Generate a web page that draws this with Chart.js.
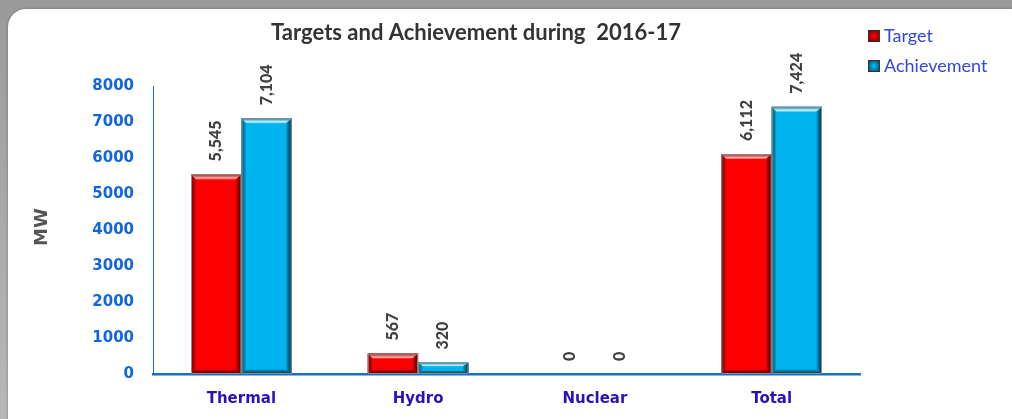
<!DOCTYPE html>
<html><head><meta charset="utf-8">
<script src="https://cdn.jsdelivr.net/npm/chart.js@4/dist/chart.umd.min.js"></script>
<style>
html,body{margin:0;padding:0;width:1012px;height:419px;overflow:hidden;background:#a9a9a9;}
#frame{position:absolute;left:0;top:0;width:1012px;height:419px;background:linear-gradient(to bottom,#9a9a9a,#b8b8b8);}
#card{position:absolute;left:8px;top:9px;width:1030px;height:440px;background:#fff;border-radius:18px;box-shadow:0 0 3px rgba(0,0,0,0.35);}
canvas{position:absolute;left:0;top:0;}
</style></head><body>
<div id="frame"></div><div id="card"></div>
<canvas id="c" width="1012" height="419"></canvas>
<script>
const titleText = 'Targets and Achievement during  2016-17';
const yAxisTitle = 'MW';
const categories = ['Thermal', 'Hydro', 'Nuclear', 'Total'];
const seriesNames = ['Target', 'Achievement'];
const targetValues = [5545, 567, 0, 6112];
const achievementValues = [7104, 320, 0, 7424];
const yMin = 0, yMax = 8000, yStep = 1000;

const palette = {
  Target: {main: '#ff0000', dark: '#5a0000', mid: '#a00000', light: 'rgba(255,190,190,0.9)'},
  Achievement: {main: '#00b4f0', dark: '#0a3448', mid: '#0a7aa8', light: 'rgba(200,250,255,0.95)'}
};

const bevelPlugin = {
  id: 'bevel',
  afterDatasetsDraw(chart) {
    const ctx = chart.ctx;
    chart.data.datasets.forEach((ds, di) => {
      const pal = palette[ds.label];
      chart.getDatasetMeta(di).data.forEach(el => {
        const w = el.width, left = el.x - w / 2, right = el.x + w / 2;
        const top = el.y, bot = el.base, h = bot - top;
        if (h < 1) return;
        const b = Math.min(5, h / 3);
        ctx.save();
        let g = ctx.createLinearGradient(right - 6, 0, right, 0);
        g.addColorStop(0, 'rgba(0,0,0,0)'); g.addColorStop(1, pal.dark);
        ctx.fillStyle = g;
        ctx.beginPath(); ctx.moveTo(right, top); ctx.lineTo(right, bot); ctx.lineTo(right - 6, bot - b); ctx.lineTo(right - 6, top + b); ctx.closePath(); ctx.fill();
        g = ctx.createLinearGradient(left, 0, left + 5, 0);
        g.addColorStop(0, pal.mid); g.addColorStop(1, 'rgba(0,0,0,0)');
        ctx.fillStyle = g;
        ctx.beginPath(); ctx.moveTo(left, top); ctx.lineTo(left + 5, top + b); ctx.lineTo(left + 5, bot - b); ctx.lineTo(left, bot); ctx.closePath(); ctx.fill();
        g = ctx.createLinearGradient(0, bot - b, 0, bot);
        g.addColorStop(0, 'rgba(0,0,0,0)'); g.addColorStop(1, pal.dark);
        ctx.fillStyle = g;
        ctx.beginPath(); ctx.moveTo(left, bot); ctx.lineTo(right, bot); ctx.lineTo(right - 6, bot - b); ctx.lineTo(left + 5, bot - b); ctx.closePath(); ctx.fill();
        g = ctx.createLinearGradient(0, top, 0, top + b + 1);
        g.addColorStop(0, pal.mid); g.addColorStop(0.6, pal.light); g.addColorStop(1, 'rgba(255,255,255,0)');
        ctx.fillStyle = g;
        ctx.beginPath(); ctx.moveTo(left, top); ctx.lineTo(right, top); ctx.lineTo(right - 6, top + b); ctx.lineTo(left + 5, top + b); ctx.closePath(); ctx.fill();
        ctx.strokeStyle = '#8c8c8c'; ctx.lineWidth = 1;
        ctx.strokeRect(left + 0.5, top + 0.5, w - 1, h - 1);
        ctx.restore();
      });
    });
  }
};

const labelsPlugin = {
  id: 'extras',
  afterDraw(chart) {
    const ctx = chart.ctx;
    ctx.save();
    ctx.fillStyle = '#404040';
    ctx.font = '900 16px Lato';
    ctx.textAlign = 'left'; ctx.textBaseline = 'middle';
    chart.data.datasets.forEach((ds, di) => {
      chart.getDatasetMeta(di).data.forEach((el, i) => {
        ctx.save();
        ctx.translate(el.x, el.y - 13);
        ctx.rotate(-Math.PI / 2);
        ctx.fillText(ds.data[i].toLocaleString('en-US'), 0, 0);
        ctx.restore();
      });
    });
    ctx.fillStyle = '#333333';
    ctx.font = 'bold 22px Lato';
    ctx.textAlign = 'center'; ctx.textBaseline = 'middle';
    ctx.fillText(titleText, 476, 33);
    ctx.save();
    ctx.translate(42, 227); ctx.rotate(-Math.PI / 2);
    ctx.fillStyle = '#555555';
    ctx.font = 'bold 18px "DejaVu Sans"';
    ctx.fillText(yAxisTitle, 0, 0);
    ctx.restore();
    const ly = [36, 66];
    chart.data.datasets.forEach((ds, di) => {
      const pal = palette[ds.label];
      const x = 868, y = ly[di] - 6, s = 12;
      const g = ctx.createRadialGradient(x + s / 2, y + s / 2, 1, x + s / 2, y + s / 2, s * 0.7);
      g.addColorStop(0, pal.main); g.addColorStop(1, pal.dark);
      ctx.fillStyle = g; ctx.fillRect(x, y, s, s);
      ctx.strokeStyle = '#333'; ctx.lineWidth = 1; ctx.strokeRect(x + 0.5, y + 0.5, s - 1, s - 1);
      ctx.fillStyle = '#3346dd';
      ctx.font = '18px Lato';
      ctx.textAlign = 'left'; ctx.textBaseline = 'middle';
      ctx.fillText(ds.label, 884, ly[di]);
    });
    ctx.restore();
  }
};

new Chart(document.getElementById('c'), {
  type: 'bar',
  data: {
    labels: categories,
    datasets: [
      {label: seriesNames[0], data: targetValues, backgroundColor: palette.Target.main, borderWidth: 0},
      {label: seriesNames[1], data: achievementValues, backgroundColor: palette.Achievement.main, borderWidth: 0}
    ]
  },
  options: {
    responsive: false,
    animation: false,
    events: [],
    categoryPercentage: 0.57,
    barPercentage: 1.0,
    layout: {padding: {left: 0, top: 86, right: 152, bottom: 0}},
    plugins: {legend: {display: false}, title: {display: false}, tooltip: {enabled: false}},
    scales: {
      x: {
        grid: {display: false, drawTicks: false},
        border: {display: true, color: '#1a6fc0', width: 2.5},
        ticks: {color: '#2d10bd', font: {family: 'DejaVu Sans', size: 15, weight: 'bold'}, padding: 16},
        afterFit(s) { s.height = 45; }
      },
      y: {
        min: yMin, max: yMax,
        grid: {display: false, drawTicks: false},
        border: {display: true, color: '#1a6fc0', width: 1},
        ticks: {stepSize: yStep, color: '#1166dd', font: {family: 'DejaVu Sans', size: 15, weight: 'bold'}, padding: 19,
          callback: v => String(v)},
        afterFit(s) { s.width = 153; }
      }
    }
  },
  plugins: [bevelPlugin, labelsPlugin]
});
</script>
</body></html>
